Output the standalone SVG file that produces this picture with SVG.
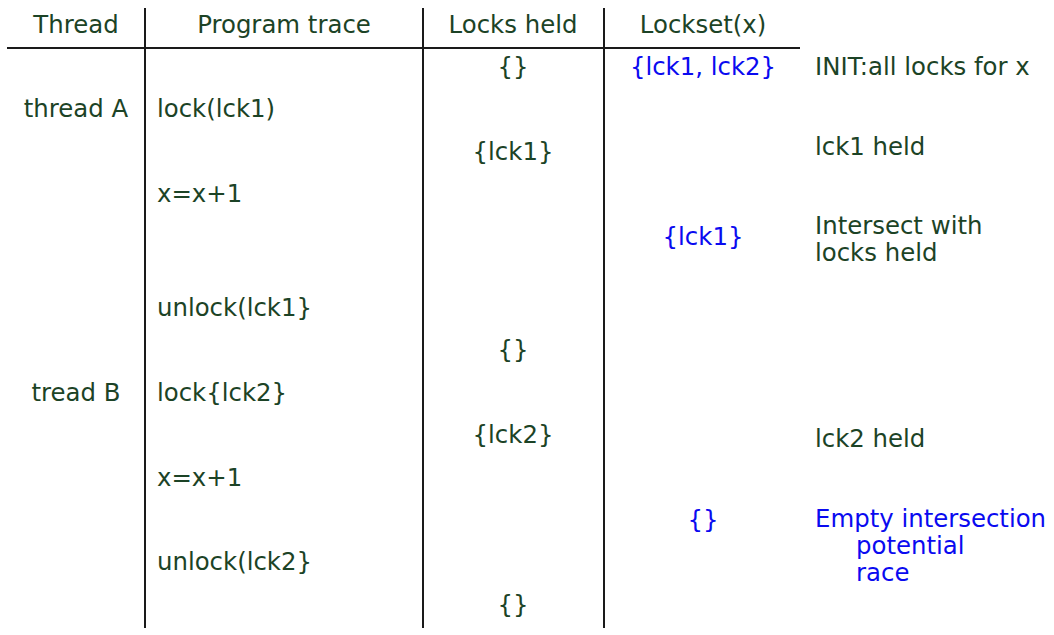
<svg xmlns="http://www.w3.org/2000/svg" width="1054" height="635" viewBox="0 0 1054 635">
<style>
text{font-family:"DejaVu Sans","Liberation Sans",sans-serif;font-size:24.4px;fill:#1c4326}
.c{text-anchor:middle}
.b{fill:#0a0af0}
.ln{stroke:#1a1a1a;stroke-width:2;fill:none}
</style>
<rect width="1054" height="635" fill="#fff"/>
<g id="grid">
<line class="ln" x1="7" y1="48" x2="800" y2="48"/>
<line class="ln" x1="145" y1="8" x2="145" y2="628"/>
<line class="ln" x1="423" y1="8" x2="423" y2="628"/>
<line class="ln" x1="604" y1="8" x2="604" y2="628"/>
</g>
<g id="header">
<text class="c" x="76" y="33">Thread</text>
<text class="c" x="284" y="33">Program trace</text>
<text class="c" x="513" y="33">Locks held</text>
<text class="c" x="703" y="33">Lockset(x)</text>
</g>
<g id="thread-col">
<text class="c" x="76" y="117">thread A</text>
<text class="c" x="76" y="401">tread B</text>
</g>
<g id="trace-col">
<text x="157" y="117">lock(lck1)</text>
<text x="157" y="202">x=x+1</text>
<text x="157" y="316">unlock(lck1}</text>
<text x="157" y="401">lock{lck2}</text>
<text x="157" y="486">x=x+1</text>
<text x="157" y="570">unlock(lck2}</text>
</g>
<g id="held-col">
<text class="c" x="513" y="75">{}</text>
<text class="c" x="513" y="160">{lck1}</text>
<text class="c" x="513" y="358">{}</text>
<text class="c" x="513" y="443">{lck2}</text>
<text class="c" x="513" y="613">{}</text>
</g>
<g id="lockset-col">
<text class="c b" x="703" y="75">{lck1, lck2}</text>
<text class="c b" x="703" y="245">{lck1}</text>
<text class="c b" x="703" y="528">{}</text>
</g>
<g id="notes">
<text x="815" y="75">INIT:all locks for x</text>
<text x="815" y="155">lck1 held</text>
<text x="815" y="234">Intersect with</text>
<text x="815" y="261">locks held</text>
<text x="815" y="447">lck2 held</text>
<text class="b" x="815" y="527">Empty intersection</text>
<text class="b" x="856" y="554">potential</text>
<text class="b" x="856" y="581">race</text>
</g>
</svg>
